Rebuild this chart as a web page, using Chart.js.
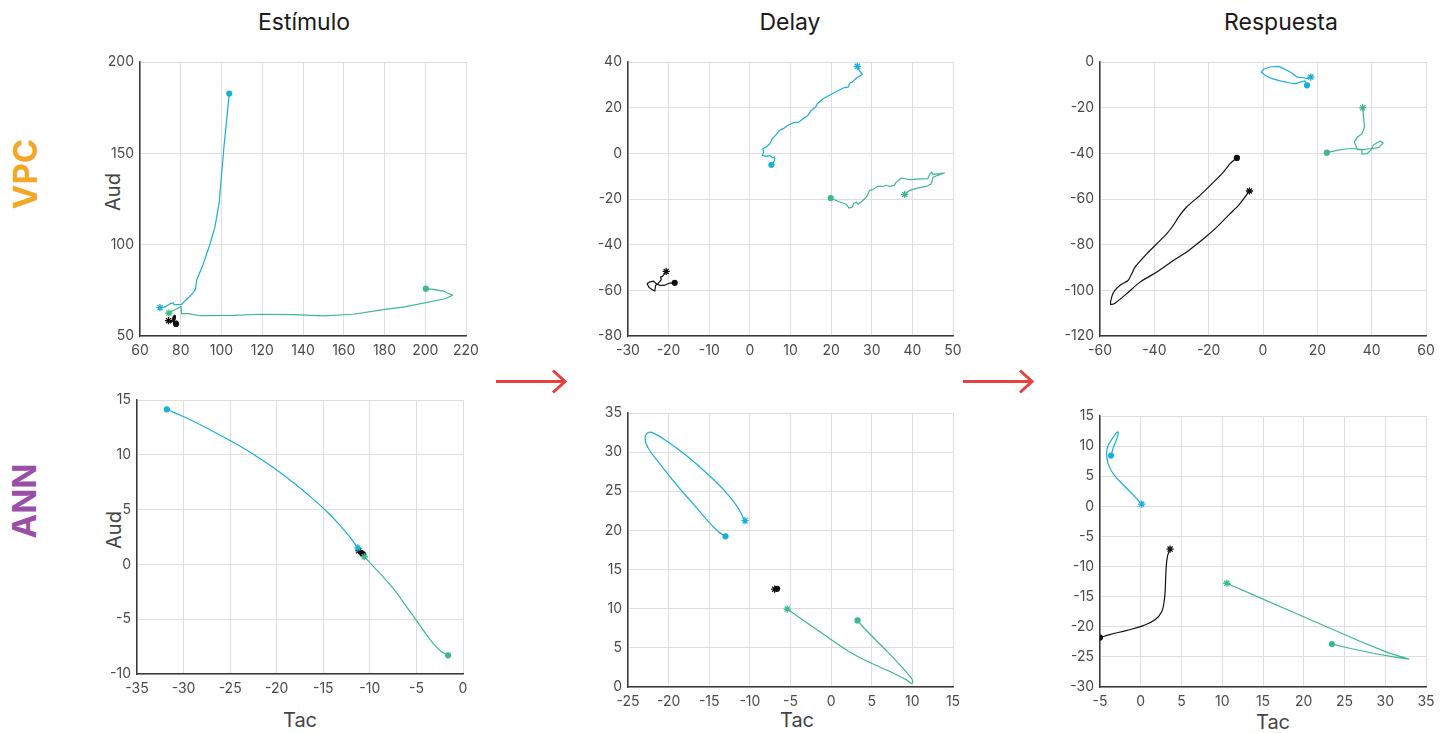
<!DOCTYPE html>
<html>
<head>
<meta charset="utf-8">
<script src="https://cdn.jsdelivr.net/npm/chart.js@4.4.1/dist/chart.umd.min.js"></script>
<style>
  body { margin: 0; background: #fff; font-family: Inter, "Noto Sans", sans-serif; }
  #fig { position: relative; width: 1453px; height: 733px; overflow: hidden; }
  .panel { position: absolute; }
  .lbl { position: absolute; white-space: nowrap; transform: translate(-50%, -50%); line-height: 1; }
  .col-title { font-size: 23px; font-weight: 400; color: #1a1a1a; }
  .ax-title { font-size: 20px; color: #444; }
  .row-title { font-size: 33px; font-weight: 700; transform: translate(-50%, -50%) rotate(-90deg); }
  svg.arrows { position: absolute; left: 0; top: 0; }
</style>
</head>
<body>
<div id="fig">
  <div class="lbl col-title" style="left:304px; top:22px;">Estímulo</div>
  <div class="lbl col-title" style="left:790px; top:22px;">Delay</div>
  <div class="lbl col-title" style="left:1281px; top:22px;">Respuesta</div>

  <div class="lbl row-title" style="left:25px; top:174px; color:#f5a623;">VPC</div>
  <div class="lbl row-title" style="left:24px; top:501px; color:#9a4fa6;">ANN</div>

  <div class="lbl ax-title" style="left:113px; top:192px; transform:translate(-50%,-50%) rotate(-90deg);">Aud</div>
  <div class="lbl ax-title" style="left:114px; top:530px; transform:translate(-50%,-50%) rotate(-90deg);">Aud</div>
  <div class="lbl ax-title" style="left:300px; top:720px;">Tac</div>
  <div class="lbl ax-title" style="left:797px; top:720px;">Tac</div>
  <div class="lbl ax-title" style="left:1273px; top:722px;">Tac</div>

  <svg class="arrows" width="1453" height="733">
    <g stroke="#e8403f" stroke-width="3" fill="none" stroke-linecap="butt">
      <line x1="496" y1="381.5" x2="564" y2="381.5"/>
      <polyline points="553,370.5 565,381.5 553,392.5"/>
      <line x1="963" y1="381.5" x2="1031" y2="381.5"/>
      <polyline points="1020,370.5 1032,381.5 1020,392.5"/>
    </g>
  </svg>

  <div class="panel"><canvas id="vpcEst"></canvas></div>
  <div class="panel"><canvas id="vpcDel"></canvas></div>
  <div class="panel"><canvas id="vpcResp"></canvas></div>
  <div class="panel"><canvas id="annEst"></canvas></div>
  <div class="panel"><canvas id="annDel"></canvas></div>
  <div class="panel"><canvas id="annResp"></canvas></div>
</div>

<script>
const CYAN = '#18afd8';
const GREEN = '#3db98b';
const BLACK = '#111111';

// ---- VPC / Estímulo ----  (each path: first point = asterisk, last point = dot)
const vpcEstX = [60, 80, 100, 120, 140, 160, 180, 200, 220];
const vpcEstY = [50, 100, 150, 200];
const vpcEstCyan = [[69.8,65.5],[72.3,65.9],[74.7,67.7],[76.4,68.1],[76.7,67.2],[80.4,67.3],[83.2,70.4],[85.8,73.2],[87.3,75.9],[87.8,80.5],[91.1,89.6],[94.4,100.5],[96.8,109.7],[98.9,123.4],[101.2,153.5],[103.8,182.7]];
const vpcEstGreen = [[74.2,62.6],[77.2,64.4],[80.1,66.2],[80.4,62.2],[83.7,62.2],[89.4,61.1],[105.8,61.3],[118.9,61.9],[135.3,61.7],[150,61],[164.7,61.9],[179.4,64.4],[190,65.9],[209.7,70.4],[213.4,72.3],[208.8,74.6],[203.9,75.5],[200.3,75.9]];
const vpcEstBlack = [[74.0,58.4],[75.2,57.9],[76.0,58.6],[76.4,60.2],[76.9,61.0],[77.1,59.4],[76.3,58.2],[77.0,57.6],[78.1,57.9],[77.4,56.8],[76.6,57.2],[77.7,56.6]];

// ---- VPC / Delay ----
const vpcDelX = [-30, -20, -10, 0, 10, 20, 30, 40, 50];
const vpcDelY = [-80, -60, -40, -20, 0, 20, 40];
const vpcDelCyan = [[26.45,38.1],[26.9,36.3],[27.7,34.6],[26.6,33.4],[25.8,32.3],[25.2,31.2],[24.6,30.8],[24.2,29.0],[23.3,28.8],[21.9,27.6],[18,23.9],[16.6,21.7],[16.2,20.3],[15.1,18.8],[14.3,16.6],[13.1,15.2],[12.1,13.7],[10.6,13.3],[9.4,12.3],[8.2,10.8],[7.3,10.1],[6.3,7.9],[5.5,6.4],[4.9,4.2],[4.0,2.8],[3.2,2.0],[3.4,0.6],[3.1,-0.9],[4.0,-1.3],[4.9,-0.9],[5.5,-1.9],[6.1,-1.6],[6.1,-3.1],[5.3,-5.0]];
const vpcDelGreen = [[38.1,-18],[39.3,-16.2],[41.8,-15],[43.4,-14.5],[44.7,-13.3],[45.1,-10.4],[46.3,-9.6],[47.9,-8.6],[46.7,-8.9],[45.1,-9.2],[44.7,-8.2],[44.3,-8.9],[43.8,-11.1],[42.6,-11.2],[39.3,-11.5],[37.3,-10.8],[36,-12.6],[35.6,-14],[34.4,-14.5],[33.6,-14],[32.8,-14.5],[31.3,-14.5],[30.3,-15.9],[29.5,-16.2],[28.7,-19.1],[27.4,-21.3],[26.6,-22.3],[26.2,-21.3],[25.5,-22.1],[25.2,-23.5],[24.4,-24],[23.7,-22.3],[22.1,-21.3],[19.9,-19.6]];
const vpcDelBlack = [[-20.6,-51.7],[-21,-52.7],[-21.5,-53.9],[-22,-54.2],[-21.8,-55.3],[-22.6,-57.1],[-23.2,-57.8],[-23.4,-60.3],[-24,-59.7],[-24.8,-58.8],[-25.3,-57.1],[-24.7,-56.4],[-23.8,-55.9],[-23.0,-57.1],[-22.2,-57.8],[-21,-57.8],[-19.7,-56.8],[-18.5,-56.7]];

// ---- VPC / Respuesta ----
const vpcRespX = [-60, -40, -20, 0, 20, 40, 60];
const vpcRespY = [-120, -100, -80, -60, -40, -20, 0];
const vpcRespCyan = [[17.6,-6.6],[16.2,-7.3],[14.9,-6.9],[12.5,-6.6],[11.2,-5.4],[10,-4.4],[7.6,-2.9],[5.7,-1.9],[2.6,-2.2],[0.2,-3.2],[-0.7,-4.4],[0.8,-5.8],[3.3,-7.3],[6.3,-8.3],[10,-9.2],[11.9,-9.5],[13.7,-8.8],[15.5,-8.3],[16.2,-10.2]];
const vpcRespGreen = [[36.7,-20],[37,-24.1],[37.4,-28.5],[36.4,-31.4],[34.6,-33.1],[33.6,-35],[34.4,-37.2],[34.8,-38.4],[36.8,-38.4],[39.3,-38],[42.6,-37.5],[44.2,-35.5],[43.2,-34.6],[40.7,-36.2],[39.7,-38.7],[38.3,-40.1],[36.4,-40.4],[36.4,-38.4],[34,-38],[30.9,-38],[27.2,-38.7],[23.5,-39.7]];
const vpcRespBlack = [[-5,-56.5],[-6.6,-59.1],[-9.0,-62.8],[-12.1,-66.4],[-17,-72.3],[-21.9,-77.4],[-28.1,-83.2],[-33,-86.9],[-39.1,-92],[-45.3,-96.4],[-50.2,-101.5],[-54.8,-105.9],[-56.1,-106.1],[-55.5,-102.2],[-54.5,-100],[-52.6,-97.8],[-49.6,-95.6],[-48.3,-92.7],[-47.1,-89.8],[-42.8,-84],[-39.1,-79.6],[-35.4,-75.2],[-33,-71.5],[-31.1,-67.9],[-28.1,-63.5],[-23.2,-58.4],[-18.2,-52.6],[-14.6,-48.2],[-12.1,-44.5],[-9.6,-42]];

// ---- ANN / Estímulo ----
const annEstX = [-35, -30, -25, -20, -15, -10, -5, 0];
const annEstY = [-10, -5, 0, 5, 10, 15];
const annEstCyan = [[-11.3,1.5],[-12.2,2.55],[-13.3,3.65],[-14.6,4.8],[-16.2,6.05],[-18.2,7.45],[-20.3,8.8],[-22.6,10.1],[-25,11.3],[-27.3,12.35],[-29.4,13.25],[-31.0,13.85],[-31.8,14.15]];
const annEstGreen = [[-10.6,0.7],[-9.6,-0.2],[-8.5,-1.2],[-7.3,-2.4],[-6.2,-3.7],[-5.1,-5.0],[-4.1,-6.2],[-3.2,-7.2],[-2.4,-7.9],[-1.6,-8.3]];
const annEstBlack = [[-11.2,1.25],[-10.8,1.15],[-11.0,0.95],[-10.7,0.85],[-10.9,1.05],[-10.75,0.95]];

// ---- ANN / Delay ----
const annDelX = [-25, -20, -15, -10, -5, 0, 5, 10, 15];
const annDelY = [0, 5, 10, 15, 20, 25, 30, 35];
const annDelCyan = [[-10.6,21.25],[-11.6,23.1],[-13.25,25.2],[-15.3,27.3],[-17.75,29.5],[-20.2,31.4],[-21.8,32.4],[-22.5,32.5],[-22.9,31.8],[-22.5,30.5],[-21,28.4],[-19,25.8],[-16.9,23.3],[-14.9,20.9],[-13.7,19.7],[-13,19.25]];
const annDelGreen = [[-5.4,9.96],[-4.0,8.95],[-2.5,7.85],[-0.9,6.7],[0.8,5.5],[2.5,4.35],[4.3,3.35],[6.1,2.5],[7.8,1.7],[9.2,0.95],[9.9,0.45],[10.05,0.75],[9.6,1.5],[8.4,2.9],[6.9,4.55],[5.3,6.2],[4.0,7.6],[3.25,8.5]];
const annDelBlack = [[-6.95,12.5],[-6.75,12.6],[-6.6,12.45],[-6.8,12.45],[-6.65,12.55]];

// ---- ANN / Respuesta ----
const annRespX = [-5, 0, 5, 10, 15, 20, 25, 30, 35];
const annRespY = [-30, -25, -20, -15, -10, -5, 0, 5, 10, 15];
const annRespCyan = [[0.12,0.37],[-0.9,1.86],[-2.1,3.5],[-3.4,5.45],[-4,7.1],[-4.2,8.76],[-4,10.1],[-3.4,11.4],[-2.9,12.35],[-2.75,12.2],[-3.0,11.0],[-3.4,9.6],[-3.65,8.43]];
const annRespGreen = [[10.56,-12.77],[14.65,-15.2],[18.7,-17.6],[22.8,-20.0],[26.9,-22.4],[30.3,-24.3],[32.9,-25.36],[31.0,-25.0],[28.5,-24.4],[25.9,-23.65],[23.45,-22.87]];
const annRespBlack = [[3.6,-7.1],[3.27,-8.35],[3.1,-10.56],[3.02,-13.3],[2.9,-15.5],[2.57,-17.5],[1.75,-18.85],[0.32,-19.8],[-1.7,-20.6],[-3.8,-21.3],[-5,-21.8]];

// panel geometry (plot area in page pixels)
const Y_W = 60, PAD_T = 12, PAD_R = 26, X_H = 30;

function axisOpts(ticks, dir) {
  return {
    type: 'linear',
    min: ticks[0],
    max: ticks[ticks.length - 1],
    afterBuildTicks: s => { s.ticks = ticks.map(v => ({ value: v })); },
    afterFit: s => {
      if (dir === 'x') s.height = X_H; else s.width = Y_W;
      s.paddingLeft = s.paddingRight = s.paddingTop = s.paddingBottom = 0;
    },
    grid: { color: '#dedede', lineWidth: 1, drawTicks: false },
    border: { display: true, color: '#3a3a3a', width: 1.5 },
    ticks: {
      color: '#4a4a4a',
      font: { family: 'Inter', size: 14 },
      padding: 6,
      autoSkip: false,
      maxRotation: 0
    }
  };
}

function toXY(path) {
  return path.map(p => ({ x: p[0], y: p[1] }));
}

function makePanel(id, box, xTicks, yTicks, series) {
  const canvas = document.getElementById(id);
  canvas.width = Y_W + box.w + PAD_R;
  canvas.height = PAD_T + box.h + X_H;
  canvas.parentNode.style.left = (box.x - Y_W) + 'px';
  canvas.parentNode.style.top = (box.y - PAD_T) + 'px';

  const datasets = [];
  series.forEach(s => {
    const pts = toXY(s.path);
    datasets.push({
      data: pts, showLine: true, borderColor: s.color, borderWidth: s.width || 1.2,
      borderJoinStyle: 'round', borderCapStyle: 'round',
      pointRadius: 0, pointHoverRadius: 0, tension: s.tension || 0
    });
    // start marker (asterisk) and end marker (dot)
    datasets.push({
      data: [pts[0]], pointStyle: 'star', pointRadius: 3.6,
      borderColor: s.color, borderWidth: 1.3, backgroundColor: s.color
    });
    datasets.push({
      data: [pts[pts.length - 1]], pointStyle: 'circle', pointRadius: 3.1,
      borderColor: s.color, borderWidth: 0, backgroundColor: s.color
    });
  });

  new Chart(canvas, {
    type: 'scatter',
    data: { datasets },
    options: {
      responsive: false,
      animation: false,
      events: [],
      layout: { padding: { top: PAD_T, right: PAD_R, left: 0, bottom: 0 } },
      plugins: { legend: { display: false }, tooltip: { enabled: false } },
      scales: { x: axisOpts(xTicks, 'x'), y: axisOpts(yTicks, 'y') }
    }
  });
}

makePanel('vpcEst', { x: 140, y: 62, w: 326, h: 274 }, vpcEstX, vpcEstY, [
  { path: vpcEstCyan, color: CYAN },
  { path: vpcEstGreen, color: GREEN },
  { path: vpcEstBlack, color: BLACK, width: 2.2 }
]);
makePanel('vpcDel', { x: 628, y: 62, w: 325, h: 274 }, vpcDelX, vpcDelY, [
  { path: vpcDelCyan, color: CYAN },
  { path: vpcDelGreen, color: GREEN },
  { path: vpcDelBlack, color: BLACK }
]);
makePanel('vpcResp', { x: 1100, y: 62, w: 326, h: 274 }, vpcRespX, vpcRespY, [
  { path: vpcRespCyan, color: CYAN },
  { path: vpcRespGreen, color: GREEN },
  { path: vpcRespBlack, color: BLACK, tension: 0.2 }
]);
makePanel('annEst', { x: 137, y: 400, w: 326, h: 274 }, annEstX, annEstY, [
  { path: annEstCyan, color: CYAN, tension: 0.4 },
  { path: annEstGreen, color: GREEN, tension: 0.4 },
  { path: annEstBlack, color: BLACK, width: 3 }
]);
makePanel('annDel', { x: 628, y: 413, w: 325, h: 274 }, annDelX, annDelY, [
  { path: annDelCyan, color: CYAN, tension: 0.4 },
  { path: annDelGreen, color: GREEN, tension: 0.4 },
  { path: annDelBlack, color: BLACK, width: 2.5 }
]);
makePanel('annResp', { x: 1100, y: 416, w: 326, h: 271 }, annRespX, annRespY, [
  { path: annRespCyan, color: CYAN, tension: 0.4 },
  { path: annRespGreen, color: GREEN },
  { path: annRespBlack, color: BLACK, tension: 0.4 }
]);
</script>
</body>
</html>
